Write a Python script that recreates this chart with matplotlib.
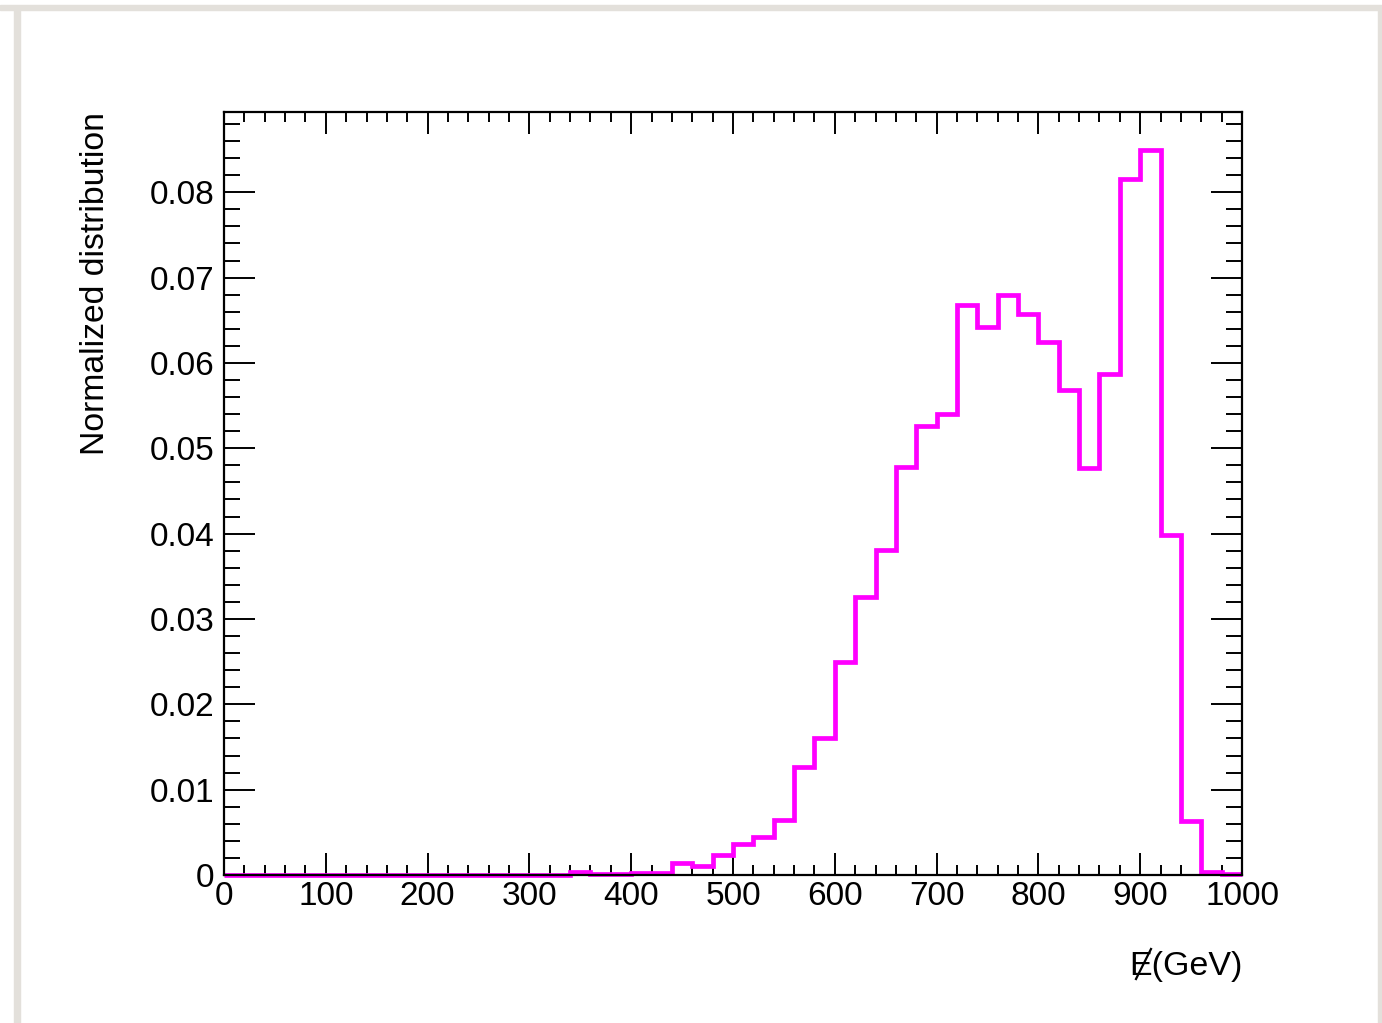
import matplotlib
matplotlib.use("Agg")
import matplotlib.pyplot as plt
from matplotlib.patches import Rectangle
from matplotlib.lines import Line2D
from matplotlib.ticker import MultipleLocator, FuncFormatter

plt.rcParams['font.family'] = ['Liberation Sans', 'DejaVu Sans']

# ---- data ----
bin_edges = list(range(0, 1001, 20))
bin_values = [0.0] * 17 + [
    0.0004, 0.0001, 0.0001, 0.0002, 0.0002,   # 340-440
    0.0014, 0.0010, 0.0023, 0.0036, 0.0044,   # 440-540
    0.0064, 0.0127, 0.0161, 0.0249, 0.0326,   # 540-640
    0.0381, 0.0478, 0.0526, 0.0540, 0.0668,   # 640-740
    0.0642, 0.0679, 0.0657, 0.0625, 0.0568,   # 740-840
    0.0477, 0.0587, 0.0815, 0.0850, 0.0398,   # 840-940
    0.0063, 0.0004, 0.0001,                   # 940-1000
]
x_ticks = [0, 100, 200, 300, 400, 500, 600, 700, 800, 900, 1000]
y_ticks = [0, 0.01, 0.02, 0.03, 0.04, 0.05, 0.06, 0.07, 0.08]
y_label = "Normalized distribution"
x_label = "E(GeV)"

W, H = 1382, 1023
fig = plt.figure(figsize=(W / 100, H / 100), dpi=100)
fig.patch.set_facecolor('white')

def fx(px):
    return px / W

def fy(py):
    return 1 - py / H

# screenshot frame (light gray)
frame_col = '#e3e0db'
fig.patches.append(Rectangle((0, fy(10)), 1, fy(5) - fy(10), transform=fig.transFigure,
                             color=frame_col, zorder=0))
fig.patches.append(Rectangle((fx(14), 0), fx(6), fy(10), transform=fig.transFigure,
                             color=frame_col, zorder=0))
fig.patches.append(Rectangle((fx(1378), 0), fx(4), fy(10), transform=fig.transFigure,
                             color=frame_col, zorder=0))

ax = fig.add_axes([fx(224), fy(875), fx(1242) - fx(224), fy(112) - fy(875)])
ax.set_facecolor('white')

ax.stairs(bin_values, bin_edges, color='#ff00ff', linewidth=3.4, baseline=None,
          clip_on=False, zorder=2)

ax.set_xlim(0, 1000)
ax.set_ylim(0, 0.0894)

ax.set_xticks(x_ticks)
ax.set_yticks(y_ticks)
ax.xaxis.set_minor_locator(MultipleLocator(20))
ax.yaxis.set_minor_locator(MultipleLocator(0.002))
ax.yaxis.set_major_formatter(FuncFormatter(lambda v, p: "0" if abs(v) < 1e-12 else f"{v:.2f}"))
ax.xaxis.set_major_formatter(FuncFormatter(lambda v, p: f"{int(round(v))}"))

for s in ax.spines.values():
    s.set_linewidth(1.6)
    s.set_zorder(3)

ax.tick_params(axis='both', which='both', direction='in', top=True, right=True,
               width=1.4, colors='black', labelsize=24)
ax.tick_params(axis='x', which='major', length=15.8, pad=4.5)
ax.tick_params(axis='x', which='minor', length=7.2)
ax.tick_params(axis='y', which='major', length=22.3, pad=7)
ax.tick_params(axis='y', which='minor', length=11.5)

# axis titles (ROOT style: placed at the axis ends)
fig.text(fx(104), fy(112), y_label, rotation=90, rotation_mode='anchor',
         ha='right', va='baseline', fontsize=24.3)
fig.text(fx(1243), fy(975), x_label, ha='right', va='baseline', fontsize=24.5)
fig.add_artist(Line2D([fx(1136), fx(1151)], [fy(979), fy(949)],
                      transform=fig.transFigure, color='black', linewidth=1.6))

fig.savefig('out.png', dpi=100)
